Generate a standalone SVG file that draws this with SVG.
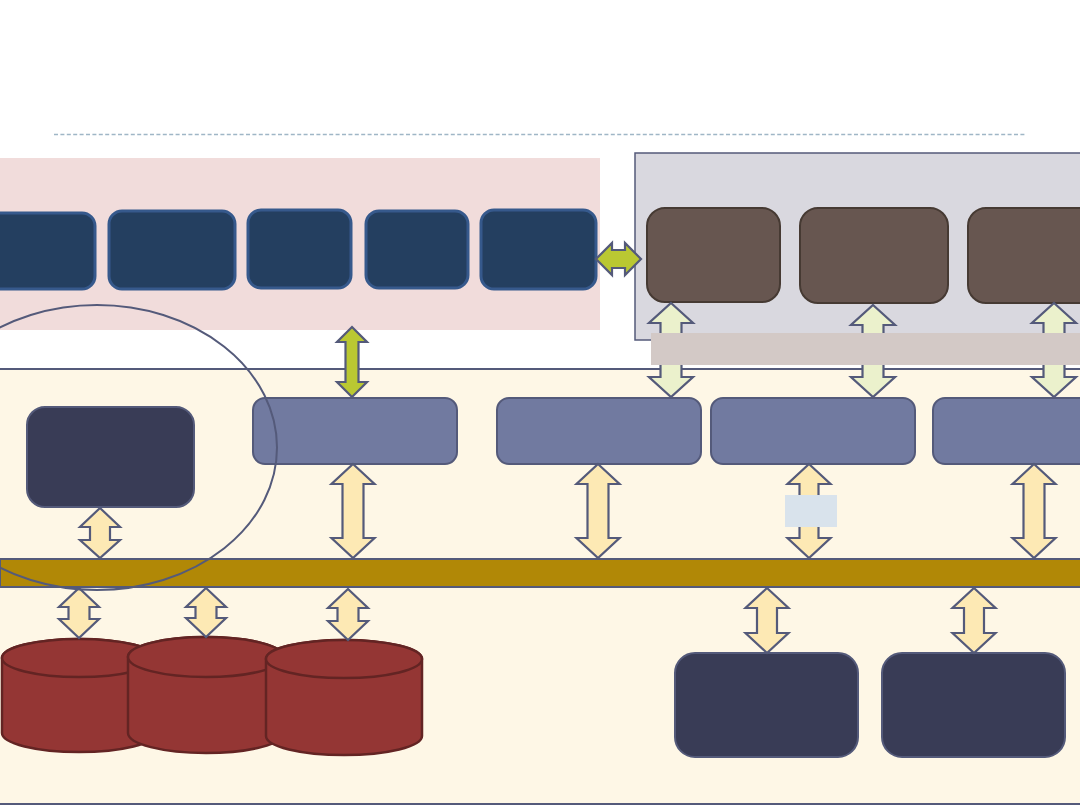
<svg xmlns="http://www.w3.org/2000/svg" width="1080" height="810" viewBox="0 0 1080 810">
<style>
.navy{fill:#243f60;stroke:#36598c;stroke-width:3}
.brown{fill:#675650;stroke:#463a33;stroke-width:2}
.peri{fill:#717aa0;stroke:#545a7a;stroke-width:2}
.dark{fill:#393c56;stroke:#545a7a;stroke-width:2}
.cyl{fill:#943634;stroke:#632423;stroke-width:2.5}
.agreen{fill:#bac832;stroke:#545a7a;stroke-width:2.2}
.apale{fill:#ebf1cc;stroke:#545a7a;stroke-width:2.2}
.acream{fill:#fde9b4;stroke:#545a7a;stroke-width:2.2}
</style>
<rect x="0" y="0" width="1080" height="810" fill="#ffffff"/>
<line x1="54" y1="134.5" x2="1025" y2="134.5" stroke="#9fb6c6" stroke-width="1.6" stroke-dasharray="4,2.4"/>
<g id="regions">
<rect x="0" y="158" width="600" height="172" fill="#f1dcdb"/>
<rect x="635" y="153" width="450" height="187" fill="#d9d8df" stroke="#545a7a" stroke-width="1.5"/>
<rect x="-2" y="369" width="1090" height="435" fill="#fef7e6" stroke="#545a7a" stroke-width="2"/>
</g>
<g id="top-nodes">
<g id="t1"><rect class="navy" x="-20" y="213" width="115" height="76" rx="13"/></g>
<g id="t2"><rect class="navy" x="109" y="211" width="126" height="78" rx="13"/></g>
<g id="t3"><rect class="navy" x="248" y="210" width="103" height="78" rx="13"/></g>
<g id="t4"><rect class="navy" x="366" y="211" width="102" height="77" rx="13"/></g>
<g id="t5"><rect class="navy" x="481" y="210" width="115" height="79" rx="13"/></g>
</g>
<g id="right-nodes">
<g id="b1"><rect class="brown" x="647" y="208" width="133" height="94" rx="18"/></g>
<g id="b2"><rect class="brown" x="800" y="208" width="148" height="95" rx="18"/></g>
<g id="b3"><rect class="brown" x="968" y="208" width="140" height="95" rx="18"/></g>
</g>
<g id="mid-nodes">
<g id="m1"><rect class="peri" x="253" y="398" width="204" height="66" rx="12"/></g>
<g id="m2"><rect class="peri" x="497" y="398" width="204" height="66" rx="12"/></g>
<g id="m3"><rect class="peri" x="711" y="398" width="204" height="66" rx="12"/></g>
<g id="m4"><rect class="peri" x="933" y="398" width="170" height="66" rx="12"/></g>
<g id="left-node"><rect class="dark" x="27" y="407" width="167" height="100" rx="18"/></g>
</g>
<g id="bus"><rect x="0" y="559" width="1090" height="28" fill="#b18806" stroke="#545a7a" stroke-width="2"/></g>
<g id="cylinders">
<g id="c1"><path class="cyl" d="M2,658 L2,733 A77,19 0 0 0 156,733 L156,658 A77,19 0 0 0 2,658 Z"/><ellipse class="cyl" cx="79" cy="658" rx="77" ry="19"/></g>
<g id="c2"><path class="cyl" d="M128,657 L128,733 A78,20 0 0 0 284,733 L284,657 A78,20 0 0 0 128,657 Z"/><ellipse class="cyl" cx="206" cy="657" rx="78" ry="20"/></g>
<g id="c3"><path class="cyl" d="M266,659 L266,736 A78,19 0 0 0 422,736 L422,659 A78,19 0 0 0 266,659 Z"/><ellipse class="cyl" cx="344" cy="659" rx="78" ry="19"/></g>
</g>
<g id="bottom-nodes">
<g id="d1"><rect class="dark" x="675" y="653" width="183" height="104" rx="20"/></g>
<g id="d2"><rect class="dark" x="882" y="653" width="183" height="104" rx="20"/></g>
</g>
<g id="connectors">
<path class="agreen" d="M352,327 L367,342 L358.5,342 L358.5,382 L367,382 L352,397 L337,382 L345.5,382 L345.5,342 L337,342 Z"/>
<path class="agreen" d="M596,259 L612,243 L612,250 L625,250 L625,243 L641,259 L625,275 L625,268 L612,268 L612,275 Z"/>
<path class="apale" d="M671,303 L693,323 L681.5,323 L681.5,377 L693,377 L671,397 L649,377 L660.5,377 L660.5,323 L649,323 Z"/>
<path class="apale" d="M873,305 L895,325 L883.5,325 L883.5,377 L895,377 L873,397 L851,377 L862.5,377 L862.5,325 L851,325 Z"/>
<path class="apale" d="M1054,303 L1076,323 L1064.5,323 L1064.5,377 L1076,377 L1054,397 L1032,377 L1043.5,377 L1043.5,323 L1032,323 Z"/>
<path class="acream" d="M100,508 L120,527 L110,527 L110,540 L120,540 L100,558 L80,540 L90,540 L90,527 L80,527 Z"/>
<path class="acream" d="M353,464 L374.5,484 L363.5,484 L363.5,538 L374.5,538 L353,558 L331.5,538 L342.5,538 L342.5,484 L331.5,484 Z"/>
<path class="acream" d="M598,464 L619.5,484 L608.5,484 L608.5,538 L619.5,538 L598,558 L576.5,538 L587.5,538 L587.5,484 L576.5,484 Z"/>
<path class="acream" d="M809,464 L830.5,484 L818.5,484 L818.5,538 L830.5,538 L809,558 L787.5,538 L799.5,538 L799.5,484 L787.5,484 Z"/>
<path class="acream" d="M1034,464 L1055.5,484 L1044.5,484 L1044.5,538 L1055.5,538 L1034,558 L1012.5,538 L1023.5,538 L1023.5,484 L1012.5,484 Z"/>
<path class="acream" d="M79,588 L99,607 L89.5,607 L89.5,619 L99,619 L79,638 L59,619 L68.5,619 L68.5,607 L59,607 Z"/>
<path class="acream" d="M206,588 L226,607 L216.5,607 L216.5,618 L226,618 L206,637 L186,618 L195.5,618 L195.5,607 L186,607 Z"/>
<path class="acream" d="M348,589 L368,608 L358.5,608 L358.5,621 L368,621 L348,640 L328,621 L337.5,621 L337.5,608 L328,608 Z"/>
<path class="acream" d="M767,588 L788.5,608 L777,608 L777,633 L788.5,633 L767,653 L745.5,633 L757,633 L757,608 L745.5,608 Z"/>
<path class="acream" d="M974,588 L995.5,608 L984,608 L984,633 L995.5,633 L974,653 L952.5,633 L964,633 L964,608 L952.5,608 Z"/>
</g>
<g id="overlays">
<rect x="651" y="333" width="440" height="32" fill="#d3c9c6"/>
<rect x="785" y="495" width="52" height="32" fill="#d9e3ec"/>
<ellipse cx="97" cy="447.5" rx="180" ry="142.5" fill="none" stroke="#545a7a" stroke-width="2"/>
</g>
</svg>
